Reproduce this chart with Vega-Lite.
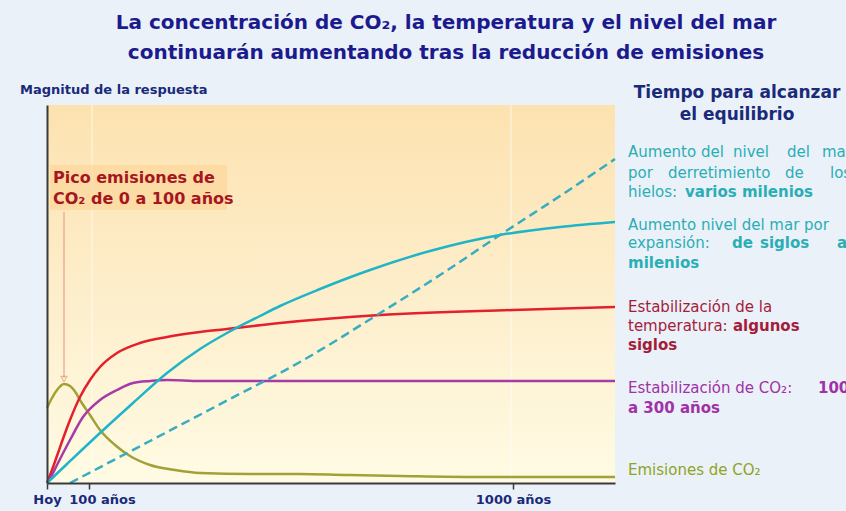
{
  "$schema": "https://vega.github.io/schema/vega-lite/v6.json",
  "width": 568,
  "height": 378,
  "autosize": "none",
  "padding": {"left": 47, "top": 105, "right": 231, "bottom": 28},
  "background": "#ebf1f8",
  "config": {"view": {"stroke": null}, "font": "DejaVu Sans"},
  "title": {
    "text": ["La concentración de CO₂, la temperatura y el nivel del mar", "continuarán aumentando tras la reducción de emisiones"],
    "fontSize": 20,
    "font": "DejaVu Sans",
    "fontWeight": "bold",
    "color": "#1b1b8e",
    "anchor": "middle",
    "dx": 115,
    "offset": 21,
    "lineHeight": 30
  },
  "datasets": {
    "curvas": [
      {"serie": "emis", "x": 0, "y": 75}, {"serie": "emis", "x": 5, "y": 85}, {"serie": "emis", "x": 10, "y": 93}, {"serie": "emis", "x": 17, "y": 99}, {"serie": "emis", "x": 23, "y": 97}, {"serie": "emis", "x": 29, "y": 90}, {"serie": "emis", "x": 33, "y": 83}, {"serie": "emis", "x": 43, "y": 68}, {"serie": "emis", "x": 53, "y": 53}, {"serie": "emis", "x": 68, "y": 38}, {"serie": "emis", "x": 83, "y": 27}, {"serie": "emis", "x": 103, "y": 18}, {"serie": "emis", "x": 128, "y": 13}, {"serie": "emis", "x": 153, "y": 10}, {"serie": "emis", "x": 203, "y": 9}, {"serie": "emis", "x": 253, "y": 9}, {"serie": "emis", "x": 298, "y": 8}, {"serie": "emis", "x": 353, "y": 7}, {"serie": "emis", "x": 431, "y": 6}, {"serie": "emis", "x": 513, "y": 6}, {"serie": "emis", "x": 568, "y": 6},
      {"serie": "temp", "x": 0, "y": 0}, {"serie": "temp", "x": 5, "y": 13}, {"serie": "temp", "x": 11, "y": 30}, {"serie": "temp", "x": 17, "y": 47}, {"serie": "temp", "x": 23, "y": 63}, {"serie": "temp", "x": 33, "y": 86}, {"serie": "temp", "x": 43, "y": 103}, {"serie": "temp", "x": 53, "y": 116}, {"serie": "temp", "x": 70, "y": 130}, {"serie": "temp", "x": 93, "y": 140}, {"serie": "temp", "x": 120, "y": 146}, {"serie": "temp", "x": 153, "y": 151}, {"serie": "temp", "x": 180, "y": 154}, {"serie": "temp", "x": 233, "y": 160}, {"serie": "temp", "x": 333, "y": 168}, {"serie": "temp", "x": 466, "y": 173}, {"serie": "temp", "x": 568, "y": 176},
      {"serie": "co2", "x": 0, "y": 0}, {"serie": "co2", "x": 5, "y": 8}, {"serie": "co2", "x": 11, "y": 20}, {"serie": "co2", "x": 23, "y": 43}, {"serie": "co2", "x": 36, "y": 66}, {"serie": "co2", "x": 53, "y": 83}, {"serie": "co2", "x": 70, "y": 93}, {"serie": "co2", "x": 86, "y": 100}, {"serie": "co2", "x": 103, "y": 102}, {"serie": "co2", "x": 120, "y": 103}, {"serie": "co2", "x": 153, "y": 102}, {"serie": "co2", "x": 568, "y": 102},
      {"serie": "exp", "x": 0, "y": 0}, {"serie": "exp", "x": 20, "y": 19}, {"serie": "exp", "x": 53, "y": 50}, {"serie": "exp", "x": 86, "y": 80}, {"serie": "exp", "x": 120, "y": 110}, {"serie": "exp", "x": 153, "y": 134}, {"serie": "exp", "x": 180, "y": 150}, {"serie": "exp", "x": 213, "y": 167}, {"serie": "exp", "x": 233, "y": 177}, {"serie": "exp", "x": 273, "y": 194}, {"serie": "exp", "x": 323, "y": 213}, {"serie": "exp", "x": 383, "y": 232}, {"serie": "exp", "x": 453, "y": 248}, {"serie": "exp", "x": 513, "y": 256}, {"serie": "exp", "x": 568, "y": 261},
      {"serie": "hielo", "x": 23, "y": 0}, {"serie": "hielo", "x": 103, "y": 42}, {"serie": "hielo", "x": 183, "y": 84}, {"serie": "hielo", "x": 253, "y": 121}, {"serie": "hielo", "x": 330, "y": 168}, {"serie": "hielo", "x": 393, "y": 208}, {"serie": "hielo", "x": 453, "y": 248}, {"serie": "hielo", "x": 513, "y": 287}, {"serie": "hielo", "x": 568, "y": 324}
    ],
    "textos": [
      {"grupo": "cuerpo", "peso": "n", "serie": "hielo", "x": 581, "y": 331, "texto": "Aumento"},
      {"grupo": "cuerpo", "peso": "n", "serie": "hielo", "x": 654, "y": 331, "texto": "del"},
      {"grupo": "cuerpo", "peso": "n", "serie": "hielo", "x": 686, "y": 331, "texto": "nivel"},
      {"grupo": "cuerpo", "peso": "n", "serie": "hielo", "x": 740, "y": 331, "texto": "del"},
      {"grupo": "cuerpo", "peso": "n", "serie": "hielo", "x": 775, "y": 331, "texto": "mar"},
      {"grupo": "cuerpo", "peso": "n", "serie": "hielo", "x": 581, "y": 310, "texto": "por"},
      {"grupo": "cuerpo", "peso": "n", "serie": "hielo", "x": 621, "y": 310, "texto": "derretimiento"},
      {"grupo": "cuerpo", "peso": "n", "serie": "hielo", "x": 738, "y": 310, "texto": "de"},
      {"grupo": "cuerpo", "peso": "n", "serie": "hielo", "x": 783, "y": 310, "texto": "los"},
      {"grupo": "cuerpo", "peso": "n", "serie": "hielo", "x": 581, "y": 291, "texto": "hielos:"},
      {"grupo": "cuerpo", "peso": "b", "serie": "hielo", "x": 638, "y": 291, "texto": "varios milenios"},
      {"grupo": "cuerpo", "peso": "n", "serie": "exp", "x": 581, "y": 258, "texto": "Aumento nivel del mar por"},
      {"grupo": "cuerpo", "peso": "n", "serie": "exp", "x": 581, "y": 240, "texto": "expansión:"},
      {"grupo": "cuerpo", "peso": "b", "serie": "exp", "x": 685, "y": 240, "texto": "de"},
      {"grupo": "cuerpo", "peso": "b", "serie": "exp", "x": 713, "y": 240, "texto": "siglos"},
      {"grupo": "cuerpo", "peso": "b", "serie": "exp", "x": 790, "y": 240, "texto": "a"},
      {"grupo": "cuerpo", "peso": "b", "serie": "exp", "x": 581, "y": 220, "texto": "milenios"},
      {"grupo": "cuerpo", "peso": "n", "serie": "temp", "x": 581, "y": 176, "texto": "Estabilización de la"},
      {"grupo": "cuerpo", "peso": "n", "serie": "temp", "x": 581, "y": 157, "texto": "temperatura:"},
      {"grupo": "cuerpo", "peso": "b", "serie": "temp", "x": 686, "y": 157, "texto": "algunos"},
      {"grupo": "cuerpo", "peso": "b", "serie": "temp", "x": 581, "y": 138, "texto": "siglos"},
      {"grupo": "cuerpo", "peso": "n", "serie": "co2", "x": 581, "y": 95, "texto": "Estabilización de CO₂:"},
      {"grupo": "cuerpo", "peso": "b", "serie": "co2", "x": 771, "y": 95, "texto": "100"},
      {"grupo": "cuerpo", "peso": "b", "serie": "co2", "x": 581, "y": 75, "texto": "a 300 años"},
      {"grupo": "cuerpo", "peso": "n", "serie": "emis", "x": 581, "y": 13, "texto": "Emisiones de CO₂"},
      {"grupo": "cabecera", "peso": "b", "serie": "eje", "x": 690, "y": 390, "texto": "Tiempo para alcanzar"},
      {"grupo": "cabecera", "peso": "b", "serie": "eje", "x": 690, "y": 368, "texto": "el equilibrio"},
      {"grupo": "magnitud", "peso": "b", "serie": "eje", "x": -27, "y": 393, "texto": "Magnitud de la respuesta"},
      {"grupo": "pico", "peso": "b", "serie": "pico", "x": 6, "y": 305, "texto": "Pico emisiones de"},
      {"grupo": "pico", "peso": "b", "serie": "pico", "x": 6, "y": 284, "texto": "CO₂ de 0 a 100 años"}
    ]
  },
  "layer": [
    {
      "data": {"values": [{}]},
      "mark": {"type": "rect", "color": {"gradient": "linear", "x1": 0, "y1": 0, "x2": 0, "y2": 1,
        "stops": [{"offset": 0, "color": "#fde2b0"}, {"offset": 0.5, "color": "#fdeecb"}, {"offset": 1, "color": "#fffbe4"}]}},
      "encoding": {
        "x": {"datum": 0, "type": "quantitative", "title": null,
          "scale": {"domain": [0, 568], "nice": false, "zero": false},
          "axis": {"title": null, "values": [0, 42, 466], "labelExpr": "datum.value == 0 ? 'Hoy' : datum.value == 42 ? '100 años' : '1000 años'",
            "grid": false, "zindex": 1, "domainColor": "#3a3a3a", "domainWidth": 2, "tickColor": "#3a3a3a", "tickWidth": 1.5, "tickSize": 6,
            "labelFont": "DejaVu Sans", "labelFontSize": 13, "labelFontWeight": "bold", "labelColor": "#1a2a7a", "labelPadding": 4,
            "labelOverlap": false, "labelBound": false, "labelFlush": false,
            "labelOffset": {"condition": {"test": "datum.value == 42", "value": 13}, "value": 0}}},
        "x2": {"datum": 568},
        "y": {"datum": 378, "type": "quantitative", "title": null,
          "scale": {"domain": [0, 378], "nice": false, "zero": false},
          "axis": {"title": null, "ticks": false, "labels": false, "grid": false, "zindex": 1, "domainColor": "#3a3a3a", "domainWidth": 2}},
        "y2": {"datum": 0}
      }
    },
    {
      "data": {"values": [{"x": 45}, {"x": 464}]},
      "mark": {"type": "rule", "color": "white", "opacity": 0.45, "strokeWidth": 1.5},
      "encoding": {"x": {"field": "x", "type": "quantitative", "title": null}, "y": {"datum": 0, "type": "quantitative"}, "y2": {"datum": 378}}
    },
    {
      "data": {"values": [{}]},
      "mark": {"type": "rect", "color": "#fcd79c", "opacity": 0.75},
      "encoding": {"x": {"datum": 3, "type": "quantitative"}, "x2": {"datum": 180}, "y": {"datum": 273, "type": "quantitative"}, "y2": {"datum": 318}}
    },
    {
      "data": {"values": [{}]},
      "mark": {"type": "rule", "color": "#e8907a", "strokeWidth": 1},
      "encoding": {"x": {"datum": 17, "type": "quantitative"}, "y": {"datum": 271, "type": "quantitative"}, "y2": {"datum": 105}}
    },
    {
      "data": {"values": [{}]},
      "mark": {"type": "point", "shape": "triangle-down", "filled": false, "stroke": "#d88a6a", "strokeWidth": 1, "size": 40},
      "encoding": {"x": {"datum": 17, "type": "quantitative"}, "y": {"datum": 104, "type": "quantitative"}}
    },
    {
      "data": {"name": "curvas"},
      "transform": [{"filter": "datum.serie != 'hielo'"}],
      "mark": {"type": "line", "interpolate": "monotone", "strokeWidth": 2.5},
      "encoding": {
        "x": {"field": "x", "type": "quantitative", "title": null},
        "y": {"field": "y", "type": "quantitative", "title": null},
        "stroke": {"field": "serie", "type": "nominal", "legend": null,
          "scale": {"domain": ["emis", "temp", "co2", "exp", "hielo"], "range": ["#a3a136", "#e3202c", "#a83aa8", "#1fb5c6", "#38acc0"]}}
      }
    },
    {
      "data": {"name": "curvas"},
      "transform": [{"filter": "datum.serie == 'hielo'"}],
      "mark": {"type": "line", "interpolate": "monotone", "strokeWidth": 2.5, "strokeDash": [9, 5]},
      "encoding": {
        "x": {"field": "x", "type": "quantitative", "title": null},
        "y": {"field": "y", "type": "quantitative", "title": null},
        "stroke": {"field": "serie", "type": "nominal", "legend": null}
      }
    },
    {
      "data": {"name": "textos"},
      "transform": [{"filter": "datum.grupo == 'cuerpo' && datum.peso == 'n'"}],
      "mark": {"type": "text", "align": "left", "baseline": "middle", "fontSize": 15, "font": "DejaVu Sans"},
      "encoding": {
        "x": {"field": "x", "type": "quantitative", "title": null},
        "y": {"field": "y", "type": "quantitative", "title": null},
        "text": {"field": "texto"},
        "fill": {"field": "serie", "type": "nominal", "legend": null,
          "scale": {"domain": ["hielo", "exp", "temp", "co2", "emis", "eje", "pico"], "range": ["#2aaeb6", "#2aaeb6", "#a31d3a", "#a032a8", "#8fa424", "#1a2a7a", "#a5161e"]}}}
    },
    {
      "data": {"name": "textos"},
      "transform": [{"filter": "datum.grupo == 'cuerpo' && datum.peso == 'b'"}],
      "mark": {"type": "text", "align": "left", "baseline": "middle", "fontSize": 15, "fontWeight": "bold", "font": "DejaVu Sans"},
      "encoding": {
        "x": {"field": "x", "type": "quantitative", "title": null},
        "y": {"field": "y", "type": "quantitative", "title": null},
        "text": {"field": "texto"},
        "fill": {"field": "serie", "type": "nominal", "legend": null}}
    },
    {
      "data": {"name": "textos"},
      "transform": [{"filter": "datum.grupo == 'cabecera'"}],
      "mark": {"type": "text", "align": "center", "baseline": "middle", "fontSize": 17, "fontWeight": "bold", "font": "DejaVu Sans"},
      "encoding": {
        "x": {"field": "x", "type": "quantitative", "title": null},
        "y": {"field": "y", "type": "quantitative", "title": null},
        "text": {"field": "texto"},
        "fill": {"field": "serie", "type": "nominal", "legend": null}}
    },
    {
      "data": {"name": "textos"},
      "transform": [{"filter": "datum.grupo == 'magnitud'"}],
      "mark": {"type": "text", "align": "left", "baseline": "middle", "fontSize": 13, "fontWeight": "bold", "font": "DejaVu Sans"},
      "encoding": {
        "x": {"field": "x", "type": "quantitative", "title": null},
        "y": {"field": "y", "type": "quantitative", "title": null},
        "text": {"field": "texto"},
        "fill": {"field": "serie", "type": "nominal", "legend": null}}
    },
    {
      "data": {"name": "textos"},
      "transform": [{"filter": "datum.grupo == 'pico'"}],
      "mark": {"type": "text", "align": "left", "baseline": "middle", "fontSize": 16, "fontWeight": "bold", "font": "DejaVu Sans"},
      "encoding": {
        "x": {"field": "x", "type": "quantitative", "title": null},
        "y": {"field": "y", "type": "quantitative", "title": null},
        "text": {"field": "texto"},
        "fill": {"field": "serie", "type": "nominal", "legend": null}}
    }
  ]
}
